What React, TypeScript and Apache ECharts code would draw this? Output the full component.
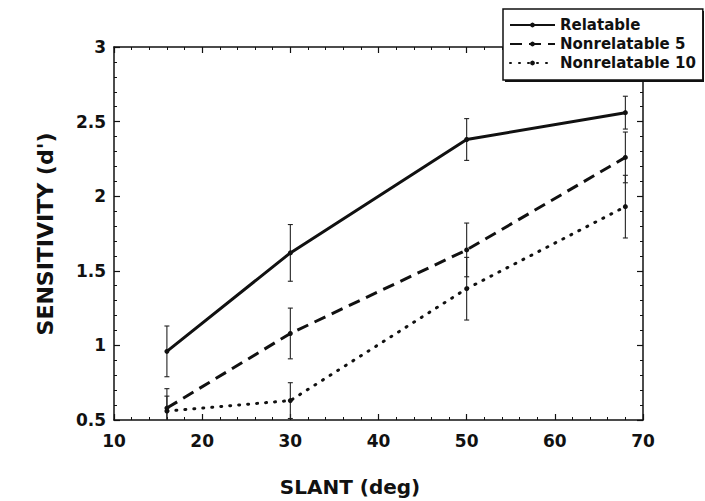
import React, { useEffect, useRef } from "react";
import * as echarts from "echarts";

const slant = [16, 30, 50, 68];
const relatable = [0.96, 1.62, 2.38, 2.56];
const relatableErr = [0.17, 0.19, 0.14, 0.11];
const nonrel5 = [0.58, 1.08, 1.64, 2.26];
const nonrel5Err = [0.13, 0.17, 0.18, 0.17];
const nonrel10 = [0.56, 0.63, 1.38, 1.93];
const nonrel10Err = [0.1, 0.12, 0.21, 0.21];
const seriesNames = ["Relatable", "Nonrelatable 5", "Nonrelatable 10"];
const xTitle = "SLANT (deg)";
const yTitle = "SENSITIVITY (d')";

const INK = "#111";
const FONT = "DejaVu Sans";

function pairs(ys: number[]) {
  return slant.map((x, i) => [x, ys[i]]);
}
function errTriples(ys: number[], es: number[]) {
  return slant.map((x, i) => [x, ys[i], es[i]]);
}

const Y_MIN = 0.5;
const Y_MAX = 3;

function renderErr(_params: any, api: any) {
  const x = api.value(0);
  const y = api.value(1);
  const e = api.value(2);
  const lo = Math.max(y - e, Y_MIN);
  const hi = Math.min(y + e, Y_MAX);
  const pHi = api.coord([x, hi]);
  const pLo = api.coord([x, lo]);
  const style = { stroke: "#222", lineWidth: 1.1 };
  const children: any[] = [
    { type: "line", shape: { x1: pHi[0], y1: pHi[1], x2: pLo[0], y2: pLo[1] }, style },
  ];
  if (y + e <= Y_MAX)
    children.push({ type: "line", shape: { x1: pHi[0] - 2.5, y1: pHi[1], x2: pHi[0] + 2.5, y2: pHi[1] }, style });
  if (y - e >= Y_MIN)
    children.push({ type: "line", shape: { x1: pLo[0] - 2.5, y1: pLo[1], x2: pLo[0] + 2.5, y2: pLo[1] }, style });
  return { type: "group", children };
}

export default function App() {
  const ref = useRef<HTMLDivElement>(null);
  useEffect(() => {
    document.body.style.margin = "0";
    const chart = echarts.init(ref.current!, null, { renderer: "svg" });
    const axisLine = { show: true, lineStyle: { color: INK, width: 1.5 } };
    const tick = { show: true, inside: true, length: 6, lineStyle: { color: INK, width: 1.2 } };
    const minor = { show: true, splitNumber: 5, length: 3, lineStyle: { color: INK, width: 1 } };
    const label = { color: INK, fontFamily: FONT, fontWeight: "bold" as const, fontSize: 17 };
    const option: any = {
      animation: false,
      backgroundColor: "#fff",
      grid: { left: 114, right: 62, top: 47, bottom: 81 },
      legend: {
        data: seriesNames,
        orient: "vertical",
        align: "left",
        left: 503,
        top: 9,
        padding: [8.5, 7, 9.5, 6],
        itemWidth: 45,
        itemHeight: 6,
        itemGap: 4,
        backgroundColor: "#fff",
        borderColor: INK,
        borderWidth: 1.5,
        z: 10,
        textStyle: { color: INK, fontFamily: FONT, fontWeight: "bold", fontSize: 15 },
      },
      graphic: [
        {
          type: "rect",
          z: 9,
          shape: { x: 505, y: 11, width: 199, height: 71 },
          style: { fill: INK },
        },
        {
          type: "text",
          x: 350,
          y: 487,
          style: {
            text: xTitle,
            fill: INK,
            font: `bold 20px "${FONT}"`,
            align: "center",
            verticalAlign: "middle",
          },
        },
        {
          type: "text",
          x: 45,
          y: 234,
          rotation: Math.PI / 2,
          style: {
            text: yTitle,
            fill: INK,
            font: `bold 22px "${FONT}"`,
            align: "center",
            verticalAlign: "middle",
          },
        },
      ],
      xAxis: [
        {
          type: "value",
          min: 10,
          max: 70,
          interval: 10,
          axisLine,
          axisTick: tick,
          minorTick: minor,
          splitLine: { show: false },
          axisLabel: { ...label, margin: 12 },
        },
        {
          type: "value",
          position: "top",
          min: 10,
          max: 70,
          interval: 10,
          axisLine,
          axisTick: tick,
          minorTick: minor,
          splitLine: { show: false },
          axisLabel: { show: false },
        },
      ],
      yAxis: [
        {
          type: "value",
          min: 0.5,
          max: 3,
          interval: 0.5,
          axisLine,
          axisTick: tick,
          minorTick: minor,
          splitLine: { show: false },
          axisLabel: { ...label, margin: 8 },
        },
        {
          type: "value",
          position: "right",
          min: 0.5,
          max: 3,
          interval: 0.5,
          axisLine,
          axisTick: tick,
          minorTick: minor,
          splitLine: { show: false },
          axisLabel: { show: false },
        },
      ],
      series: [
        {
          name: seriesNames[0],
          type: "line",
          data: pairs(relatable),
          symbol: "circle",
          symbolSize: 5,
          itemStyle: { color: INK },
          lineStyle: { color: INK, width: 3 },
          z: 3,
        },
        {
          name: seriesNames[1],
          type: "line",
          data: pairs(nonrel5),
          symbol: "circle",
          symbolSize: 5,
          itemStyle: { color: INK },
          lineStyle: { color: INK, width: 3, type: [12, 7] },
          z: 3,
        },
        {
          name: seriesNames[2],
          type: "line",
          data: pairs(nonrel10),
          symbol: "circle",
          symbolSize: 5,
          itemStyle: { color: INK },
          lineStyle: { color: INK, width: 3, type: [1, 8], cap: "round" },
          z: 3,
        },
        { type: "custom", name: "err-r", data: errTriples(relatable, relatableErr), renderItem: renderErr, encode: { x: 0, y: 1 }, z: 2 },
        { type: "custom", name: "err-5", data: errTriples(nonrel5, nonrel5Err), renderItem: renderErr, encode: { x: 0, y: 1 }, z: 2 },
        { type: "custom", name: "err-10", data: errTriples(nonrel10, nonrel10Err), renderItem: renderErr, encode: { x: 0, y: 1 }, z: 2 },
      ],
    };
    chart.setOption(option);
    return () => chart.dispose();
  }, []);
  return <div ref={ref} style={{ width: 705, height: 501 }} />;
}
